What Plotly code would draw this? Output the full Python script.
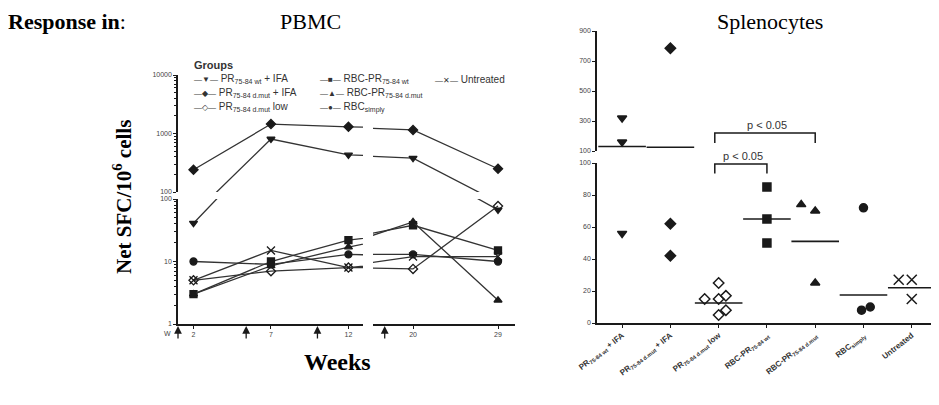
import plotly.graph_objects as go

W, H = 939, 405
PAGE_OFFSET = 8  # browser body margin

# ---------------- DATA ----------------
weeks = [2, 7, 12, 20, 29]
pbmc_wt_ifa = [41, 805, 430, 380, 67]
pbmc_dmut_ifa = [240, 1450, 1300, 1150, 250]
pbmc_dmut_low = [5, 7, 8, 7.6, 77]
pbmc_rbc_wt = [3, 10, 22, 38, 15]
pbmc_rbc_dmut = [3, 8.5, 17, 43, 2.4]
pbmc_rbc_simply = [10, 9, 13, 13, 10]
pbmc_untreated = [5, 15, 8, 12, 12]
immun_weeks_early = [1, 5.4, 10]
immun_weeks_late = [17]

spl_categories = ["PR<sub>75-84 wt</sub> + IFA", "PR<sub>75-84 d.mut</sub> + IFA",
                  "PR<sub>75-84 d.mut</sub> low", "RBC-PR<sub>75-84 wt</sub>",
                  "RBC-PR<sub>75-84 d.mut</sub>", "RBC<sub>simply</sub>", "Untreated"]
spl_wt_ifa = [320, 160, 56]
spl_dmut_ifa = [785, 62, 42]
spl_dmut_low = [25, 15, 15, 17, 5, 8]
spl_rbc_wt = [85, 65, 50]
spl_rbc_dmut = [74, 70, 25]
spl_rbc_simply = [72, 8, 10]
spl_untreated = [27, 27, 15]
spl_center_lines = [130, 125, 12.5, 65, 51, 17.5, 22]
spl_jitter = [[0, 0, 0], [0, 0, 0], [0, -0.29, 0, 0.15, 0, 0.15], [0, 0, 0],
              [-0.29, 0, 0], [0, -0.04, 0.14], [-0.27, 0, 0]]
spl_break = 100

# ---------------- STYLE ----------------
symbols = ["triangle-down", "diamond", "diamond-open", "square", "triangle-up", "circle", "x-thin"]
pbmc_series = [pbmc_wt_ifa, pbmc_dmut_ifa, pbmc_dmut_low, pbmc_rbc_wt,
               pbmc_rbc_dmut, pbmc_rbc_simply, pbmc_untreated]
spl_series = [spl_wt_ifa, spl_dmut_ifa, spl_dmut_low, spl_rbc_wt,
              spl_rbc_dmut, spl_rbc_simply, spl_untreated]
INK = "#1a1a1a"
LINE = "#333333"
SANS = "Liberation Sans, Arial, sans-serif"
SERIF = "Liberation Serif, Times New Roman, serif"


def fx(p):
    return (p - PAGE_OFFSET) / W


def fy(p):
    return 1 - (p - PAGE_OFFSET) / H


fig = go.Figure()

# ---------- PBMC (broken axes: 2 x-segments, 2 y-segments) ----------
for series, sym in zip(pbmc_series, symbols):
    msize = 7 if sym != "x-thin" else 8
    for xa in ("x", "x2"):
        for ya in ("y", "y2"):
            fig.add_trace(go.Scatter(
                x=weeks, y=series, xaxis=xa, yaxis=ya, mode="lines+markers",
                line=dict(color=LINE, width=1.3),
                marker=dict(symbol=sym, size=msize, color=INK,
                            line=dict(color=INK, width=1.3)),
                showlegend=False, hoverinfo="skip"))

# ---------- Splenocytes (broken y axis at 100) ----------
for i, (vals, sym) in enumerate(zip(spl_series, symbols)):
    xs = [i + j for j in spl_jitter[i]]
    msize = 8 if sym != "x-thin" else 10
    for ya, keep in (("y3", lambda v: v > spl_break), ("y4", lambda v: v <= spl_break)):
        pts = [(x, v) for x, v in zip(xs, vals) if keep(v)]
        if not pts:
            continue
        fig.add_trace(go.Scatter(
            x=[p[0] for p in pts], y=[p[1] for p in pts], xaxis="x3", yaxis=ya, mode="markers",
            marker=dict(symbol=sym, size=msize, color=INK,
                        line=dict(color=INK, width=1.5)),
            showlegend=False, hoverinfo="skip"))
for ya, keep in (("y3", lambda v: v > spl_break), ("y4", lambda v: v <= spl_break)):
    pts = [(i, v) for i, v in enumerate(spl_center_lines) if keep(v)]
    fig.add_trace(go.Scatter(
        x=[p[0] for p in pts], y=[p[1] for p in pts], xaxis="x3", yaxis=ya,
        mode="markers",
        marker=dict(symbol="line-ew", size=34, color=INK, line=dict(color=INK, width=1.6)),
        showlegend=False, hoverinfo="skip"))

tickfont = dict(family=SANS, size=7, color="#444")
axis_common = dict(showgrid=False, zeroline=False, showline=True, linecolor=INK, linewidth=1.5,
                   ticks="outside", ticklen=3, tickwidth=1.2, tickcolor=INK, tickfont=tickfont,
                   automargin=False)

fig.update_layout(
    width=W, height=H, margin=dict(l=0, r=0, t=0, b=0, autoexpand=False),
    paper_bgcolor="white", plot_bgcolor="white", showlegend=False,
    xaxis=dict(domain=[fx(178), fx(363)], range=[1, 12.94], anchor="y2",
               tickvals=[2, 7, 12], **axis_common),
    xaxis2=dict(domain=[fx(373), fx(515)], range=[15.76, 30.8], anchor="y2",
                tickvals=[20, 29], **axis_common),
    yaxis=dict(domain=[fy(192), fy(75)], type="log", range=[2, 4], anchor="x",
               tickmode="linear", tick0=0, dtick=1, tickformat="d",
               minor=dict(ticks="outside", ticklen=2, tickcolor=INK, showgrid=False),
               **axis_common),
    yaxis2=dict(domain=[fy(324), fy(199)], type="log", range=[0, 2], anchor="x",
                tickmode="linear", tick0=0, dtick=1, tickformat="d",
                minor=dict(ticks="outside", ticklen=2, tickcolor=INK, showgrid=False),
                **axis_common),
    xaxis3=dict(domain=[fx(597), fx(933)], range=[-0.52, 6.44], anchor="y4",
                tickvals=list(range(len(spl_categories))), ticktext=spl_categories,
                tickangle=-38, **{**axis_common,
                                  "tickfont": dict(family=SANS, size=8, color="#333", weight="bold")}),
    yaxis3=dict(domain=[fy(151), fy(31)], range=[100, 900], anchor="x3",
                tickvals=[100, 300, 500, 700, 900], **axis_common),
    yaxis4=dict(domain=[fy(323), fy(163)], range=[0, 100], anchor="x3",
                tickvals=[0, 20, 40, 60, 80, 100], **axis_common),
)

ann = []
# titles
ann.append(dict(text="<b>Response in</b>:", x=fx(6), y=fy(21), xref="paper", yref="paper",
                xanchor="left", yanchor="middle", showarrow=False,
                font=dict(family=SERIF, size=22, color="black")))
ann.append(dict(text="PBMC", x=fx(310), y=fy(21), xref="paper", yref="paper",
                xanchor="center", yanchor="middle", showarrow=False,
                font=dict(family=SERIF, size=22, color="black")))
ann.append(dict(text="Splenocytes", x=fx(770), y=fy(21), xref="paper", yref="paper",
                xanchor="center", yanchor="middle", showarrow=False,
                font=dict(family=SERIF, size=22, color="black")))
ann.append(dict(text="<b>Net SFC/10<sup>6</sup> cells</b>", x=fx(122), y=fy(197), xref="paper",
                yref="paper", xanchor="center", yanchor="middle", showarrow=False, textangle=-90,
                font=dict(family=SERIF, size=21, color="black")))
ann.append(dict(text="<b>Weeks</b>", x=fx(337), y=fy(362), xref="paper", yref="paper",
                xanchor="center", yanchor="middle", showarrow=False,
                font=dict(family=SERIF, size=24, color="black")))

# legend (text)
legfont = dict(family=SANS, size=10, color="#333")
ann.append(dict(text="<b>Groups</b>", x=fx(192), y=fy(65), xref="paper", yref="paper",
                xanchor="left", yanchor="middle", showarrow=False,
                font=dict(family=SANS, size=11, color="#333")))
legend_items = [
    (192, 79, "▼", "PR<sub>75-84 wt</sub> + IFA"),
    (192, 93, "◆", "PR<sub>75-84 d.mut</sub> + IFA"),
    (192, 107, "◇", "PR<sub>75-84 d.mut</sub> low"),
    (318, 79, "■", "RBC-PR<sub>75-84 wt</sub>"),
    (318, 93, "▲", "RBC-PR<sub>75-84 d.mut</sub>"),
    (318, 107, "●", "RBC<sub>simply</sub>"),
    (433, 79, "✕", "Untreated"),
]
for px, py, g, lab in legend_items:
    ann.append(dict(text='<span style="font-size:8px">—' + g + '—</span> ' + lab,
                    x=fx(px), y=fy(py), xref="paper", yref="paper",
                    xanchor="left", yanchor="middle", showarrow=False, font=legfont))

# immunization arrows
for wk in immun_weeks_early:
    ann.append(dict(x=wk, y=fy(326), xref="x", yref="paper", text="", showarrow=True,
                    ax=0, ay=14, arrowhead=2, arrowsize=1.2, arrowwidth=1.3, arrowcolor=INK))
for wk in immun_weeks_late:
    ann.append(dict(x=wk, y=fy(326), xref="x2", yref="paper", text="", showarrow=True,
                    ax=0, ay=14, arrowhead=2, arrowsize=1.2, arrowwidth=1.3, arrowcolor=INK))
ann.append(dict(text="W", x=fx(173), y=fy(333), xref="paper", yref="paper", xanchor="right",
                yanchor="middle", showarrow=False, font=dict(family=SANS, size=7, color="#444")))

# p-value labels
ann.append(dict(text="p &lt; 0.05", x=2.5, y=99.4, xref="x3", yref="y4", xanchor="center",
                yanchor="bottom", showarrow=False, font=dict(family=SANS, size=11, color="#333")))
ann.append(dict(text="p &lt; 0.05", x=3, y=220, xref="x3", yref="y3", xanchor="center",
                yanchor="bottom", showarrow=False, font=dict(family=SANS, size=11, color="#333")))
fig.update_layout(annotations=ann)

fig.add_shape(type="path", path="M 1.92,93.5 L 1.92,99.4 L 3,99.4 L 3,93.5",
              xref="x3", yref="y4", line=dict(color=INK, width=1.5))
fig.add_shape(type="path", path="M 1.92,153 L 1.92,220 L 4,220 L 4,153",
              xref="x3", yref="y3", line=dict(color=INK, width=1.5))

fig.write_html("out.html")
